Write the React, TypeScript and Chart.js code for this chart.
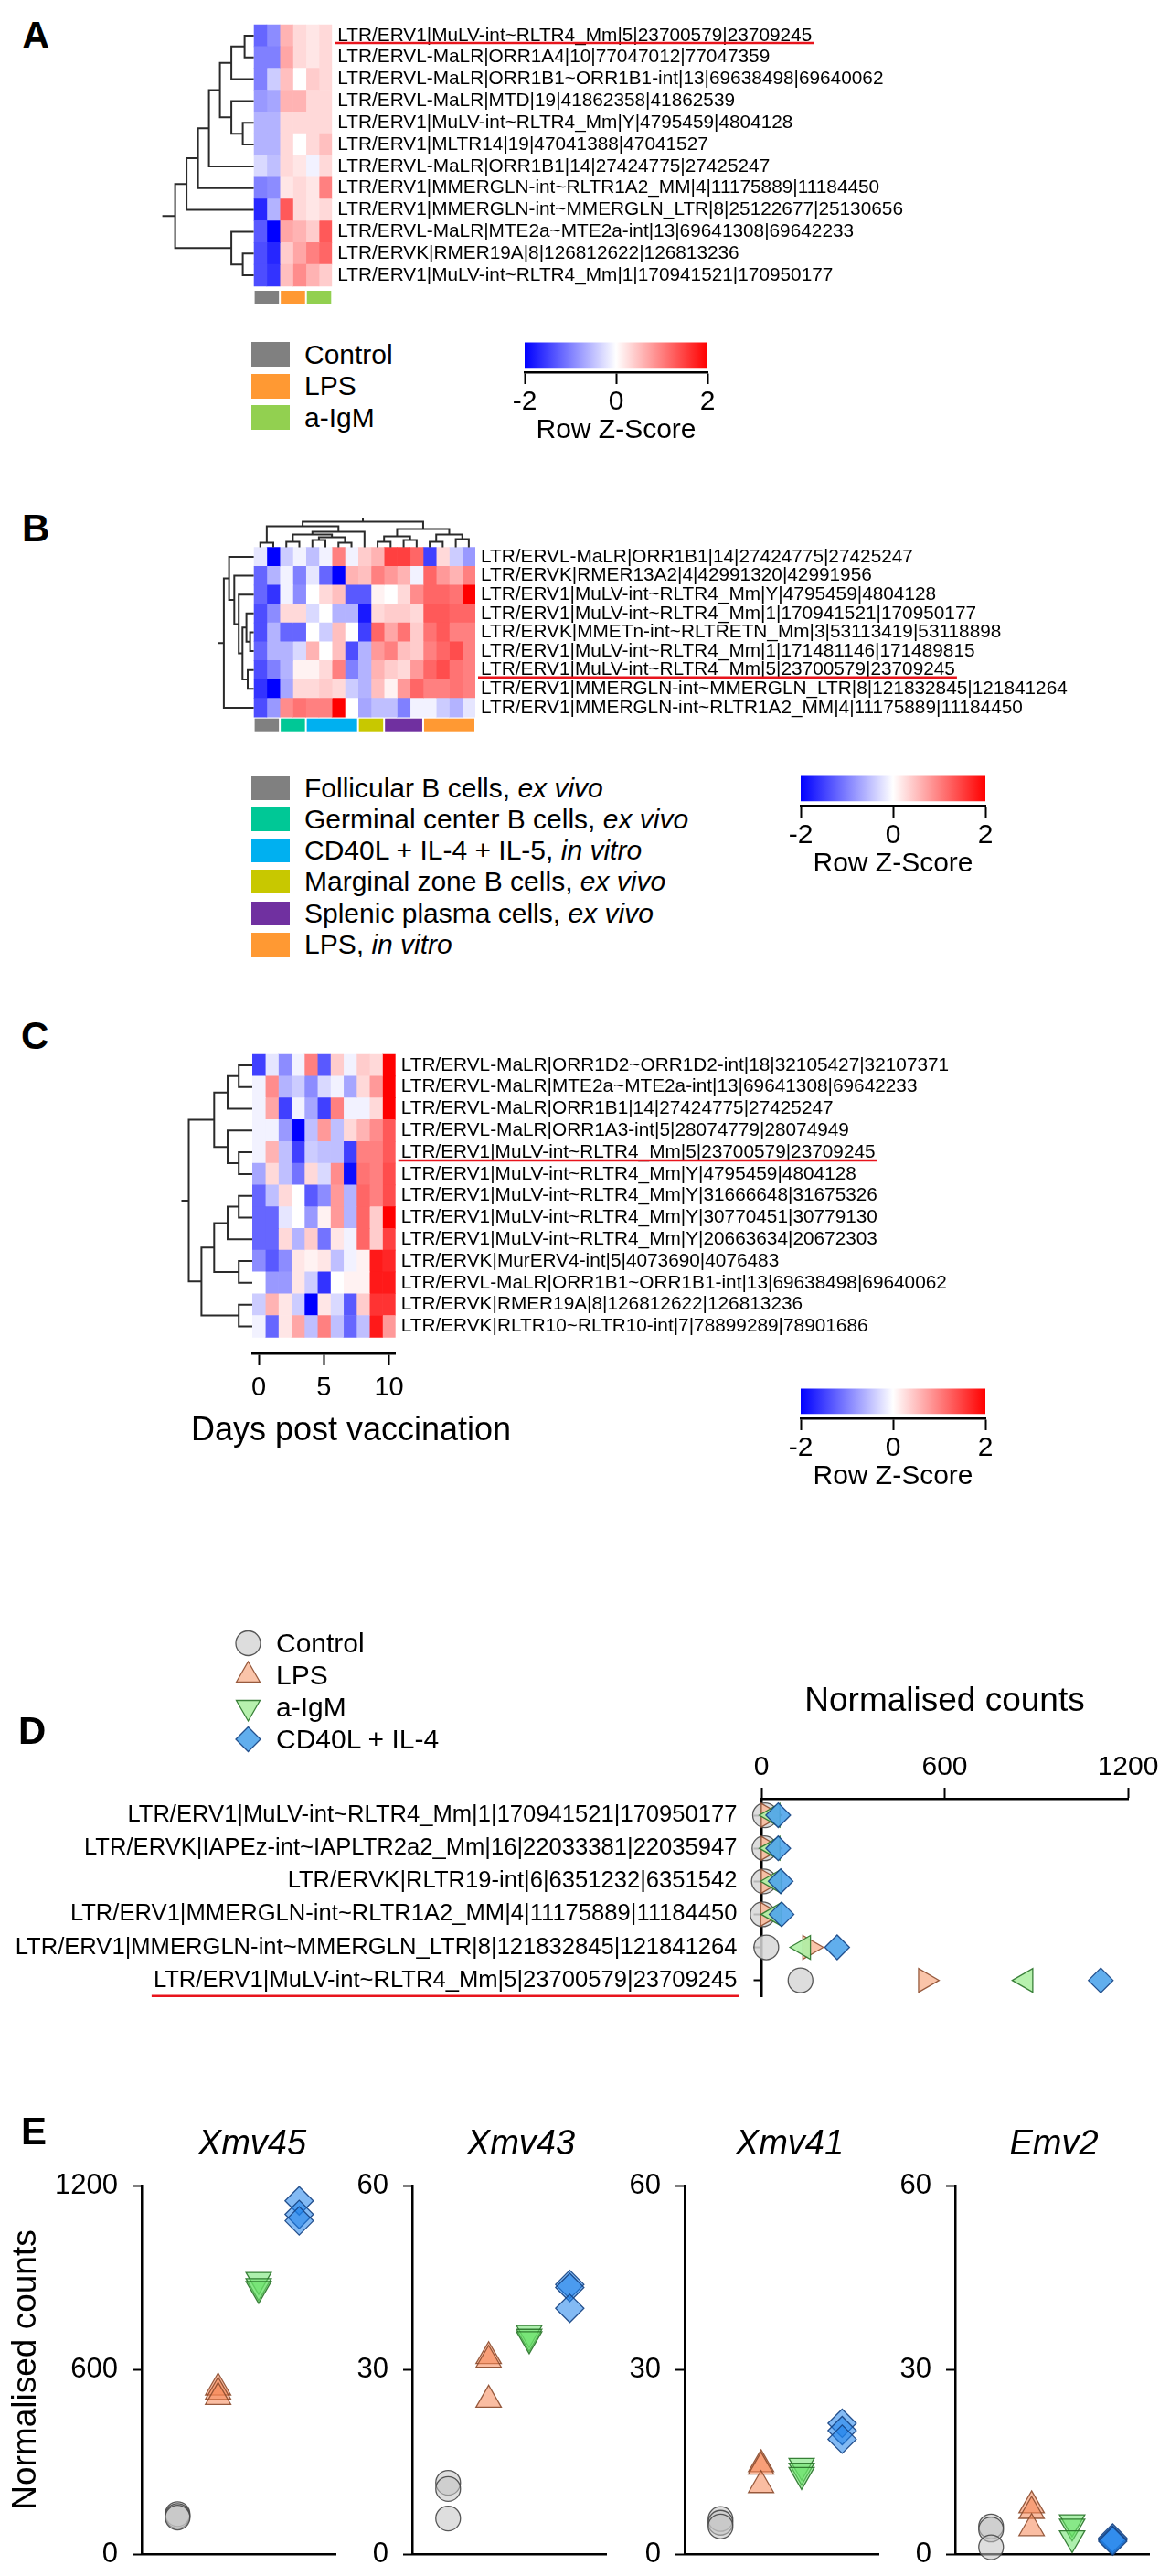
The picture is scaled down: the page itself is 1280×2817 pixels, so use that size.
import React, { useEffect, useRef } from 'react';
import { Chart, registerables } from 'chart.js';

Chart.register(...registerables);

const FONT = '"Liberation Sans", Arial, Helvetica, sans-serif';
Chart.defaults.font.family = FONT;
Chart.defaults.color = '#000';

type Merge = [number, number, number];

// ===================== DATA =====================
// ---- Panel A ----
const A_ROWS = [
  'LTR/ERV1|MuLV-int~RLTR4_Mm|5|23700579|23709245',
  'LTR/ERVL-MaLR|ORR1A4|10|77047012|77047359',
  'LTR/ERVL-MaLR|ORR1B1~ORR1B1-int|13|69638498|69640062',
  'LTR/ERVL-MaLR|MTD|19|41862358|41862539',
  'LTR/ERV1|MuLV-int~RLTR4_Mm|Y|4795459|4804128',
  'LTR/ERV1|MLTR14|19|47041388|47041527',
  'LTR/ERVL-MaLR|ORR1B1|14|27424775|27425247',
  'LTR/ERV1|MMERGLN-int~RLTR1A2_MM|4|11175889|11184450',
  'LTR/ERV1|MMERGLN-int~MMERGLN_LTR|8|25122677|25130656',
  'LTR/ERVL-MaLR|MTE2a~MTE2a-int|13|69641308|69642233',
  'LTR/ERVK|RMER19A|8|126812622|126813236',
  'LTR/ERV1|MuLV-int~RLTR4_Mm|1|170941521|170950177',
];
const A_SAMPLE_GROUP = [0, 0, 1, 1, 2, 2];
const A_GROUP_LABELS = ['Control', 'LPS', 'a-IgM'];
const A_Z = [
  [-1.2, -0.9, 0.6, 0.3, 0.2, 0.3],
  [-1.0, -1.0, 0.7, 0.3, 0.2, 0.3],
  [-1.0, -0.4, 0.5, 0.0, 0.4, 0.3],
  [-0.8, -0.7, 0.6, 0.6, 0.3, 0.3],
  [-0.6, -0.6, 0.3, 0.3, 0.3, 0.3],
  [-0.6, -0.6, 0.3, 0.0, 0.3, 0.5],
  [-0.3, -0.5, 0.3, 0.2, -0.1, 0.3],
  [-1.0, -0.9, 0.2, 0.3, 0.2, 1.0],
  [-1.7, -0.6, 1.3, 0.3, 0.2, 0.3],
  [-1.3, -2.0, 0.7, 0.6, 0.4, 1.3],
  [-1.4, -1.7, 0.4, 0.7, 1.0, 1.2],
  [-1.4, -1.6, 0.5, 0.9, 0.6, 0.4],
];
// [childA, childB, height]; leaves 0..n-1, merge k -> node n+k
const A_TREE: Merge[] = [
  [0, 1, 10], [12, 2, 24.5], [4, 5, 12], [3, 14, 24.5], [13, 15, 37], [16, 6, 49],
  [17, 7, 61], [18, 8, 73.5], [10, 11, 12], [9, 20, 24.5], [19, 21, 86],
];
const A_HIGHLIGHT = 0;

// ---- Panel B ----
const B_ROWS = [
  'LTR/ERVL-MaLR|ORR1B1|14|27424775|27425247',
  'LTR/ERVK|RMER13A2|4|42991320|42991956',
  'LTR/ERV1|MuLV-int~RLTR4_Mm|Y|4795459|4804128',
  'LTR/ERV1|MuLV-int~RLTR4_Mm|1|170941521|170950177',
  'LTR/ERVK|MMETn-int~RLTRETN_Mm|3|53113419|53118898',
  'LTR/ERV1|MuLV-int~RLTR4_Mm|1|171481146|171489815',
  'LTR/ERV1|MuLV-int~RLTR4_Mm|5|23700579|23709245',
  'LTR/ERV1|MMERGLN-int~MMERGLN_LTR|8|121832845|121841264',
  'LTR/ERV1|MMERGLN-int~RLTR1A2_MM|4|11175889|11184450',
];
const B_SAMPLE_GROUP = [0, 0, 1, 1, 2, 2, 2, 2, 3, 3, 4, 4, 4, 5, 5, 5, 5];
const B_GROUP_LABELS = ['Follicular B cells, ', 'Germinal center B cells, ', 'CD40L + IL-4 + IL-5, ', 'Marginal zone B cells, ', 'Splenic plasma cells, ', 'LPS, '];
const B_GROUP_ITALIC = ['ex vivo', 'ex vivo', 'in vitro', 'ex vivo', 'ex vivo', 'in vitro'];
const B_Z = [
  [-0.2, -2.0, -0.4, -0.1, -0.5, -0.1, 1.0, -0.1, 0.4, 0.6, 1.5, 1.5, 1.2, -1.5, 0.3, -0.4, -0.8],
  [-1.2, -0.6, -0.1, -1.0, -0.2, -1.2, -2.0, 0.6, 0.5, 1.0, 0.8, 0.6, -0.1, 1.2, 0.8, 0.6, 1.0],
  [-1.2, -1.6, -0.1, -0.9, 0.0, 0.3, 0.5, -1.3, -1.3, 0.1, 0.0, 0.3, 0.9, 1.2, 1.2, 1.1, 2.0],
  [-1.4, -0.9, 0.3, 0.3, -0.3, 0.0, -0.6, -0.6, -1.8, 0.3, 0.4, 0.4, 0.3, 1.3, 1.3, 1.2, 1.2],
  [-1.4, -0.6, -1.2, -1.2, 0.0, -0.4, 0.5, 0.0, -1.5, 1.2, 0.7, 1.1, 0.4, 1.1, 1.3, 1.0, 1.0],
  [-1.2, -0.6, -0.6, -0.3, 0.6, 0.0, 0.5, -1.4, -0.6, 0.8, 1.0, 0.5, 0.4, 1.0, 1.2, 1.4, 1.0],
  [-1.4, -1.0, -0.6, 0.1, 0.1, 0.3, 1.0, -1.0, -0.6, 0.6, 0.4, 0.3, 0.8, 1.2, 1.4, 1.1, 1.0],
  [-1.6, -2.0, -0.7, 0.3, 0.3, 0.4, 0.3, -0.4, -0.6, 0.5, 0.1, 0.8, 1.2, 1.0, 1.0, 1.1, 1.0],
  [-1.4, -0.8, 0.9, 1.1, 1.0, 1.0, 2.0, 0.0, -0.7, -0.5, -0.5, -1.0, -0.1, -0.1, -0.4, -0.6, -0.2],
];
const B_ROW_TREE: Merge[] = [
  [4, 5, 4], [3, 9, 8], [6, 7, 6.6], [10, 11, 12.3], [2, 12, 16.4], [1, 13, 21.3], [0, 14, 27], [15, 8, 32.7],
];
const B_COL_TREE: Merge[] = [
  [0, 1, 5], [2, 3, 6], [4, 5, 8], [6, 7, 5], [19, 20, 11], [18, 21, 14], [22, 8, 17], [17, 23, 23],
  [9, 10, 6], [11, 12, 8], [25, 26, 12], [13, 14, 6], [15, 16, 9], [28, 29, 14], [27, 30, 20], [24, 31, 28],
];
const B_HIGHLIGHT = 6;

// ---- Panel C ----
const C_ROWS = [
  'LTR/ERVL-MaLR|ORR1D2~ORR1D2-int|18|32105427|32107371',
  'LTR/ERVL-MaLR|MTE2a~MTE2a-int|13|69641308|69642233',
  'LTR/ERVL-MaLR|ORR1B1|14|27424775|27425247',
  'LTR/ERVL-MaLR|ORR1A3-int|5|28074779|28074949',
  'LTR/ERV1|MuLV-int~RLTR4_Mm|5|23700579|23709245',
  'LTR/ERV1|MuLV-int~RLTR4_Mm|Y|4795459|4804128',
  'LTR/ERV1|MuLV-int~RLTR4_Mm|Y|31666648|31675326',
  'LTR/ERV1|MuLV-int~RLTR4_Mm|Y|30770451|30779130',
  'LTR/ERV1|MuLV-int~RLTR4_Mm|Y|20663634|20672303',
  'LTR/ERVK|MurERV4-int|5|4073690|4076483',
  'LTR/ERVL-MaLR|ORR1B1~ORR1B1-int|13|69638498|69640062',
  'LTR/ERVK|RMER19A|8|126812622|126813236',
  'LTR/ERVK|RLTR10~RLTR10-int|7|78899289|78901686',
];
const C_DAYS = [0, 1, 2, 3, 4, 5, 6, 7, 8, 9, 10];
const C_DAY_TICKS = [0, 5, 10];
const C_Z = [
  [-1.5, -0.2, -0.9, -0.1, 1.0, -1.3, 0.4, -0.1, 0.4, 0.3, 2.0],
  [-0.1, 0.9, -0.6, -0.4, -0.9, -0.3, -0.1, -0.7, 0.3, 0.8, 2.0],
  [-0.1, 0.7, -1.5, -0.1, -0.7, -1.5, 1.0, -0.1, -0.1, 0.3, 2.0],
  [-0.1, -0.1, -0.8, -2.0, -0.5, 0.8, -0.5, 0.3, 0.6, 0.9, 1.3],
  [-0.1, 0.6, -0.5, -1.5, -0.4, -0.5, -0.5, -1.5, 1.0, 1.0, 1.3],
  [-0.7, 0.3, -0.5, -1.1, 0.3, -0.3, 0.9, -1.9, 1.1, 1.0, 1.4],
  [-1.2, -0.5, 0.3, 0.0, -1.3, -0.9, 0.8, -0.6, 1.2, 1.0, 1.4],
  [-1.2, -1.2, -0.2, 0.0, -0.8, 0.1, 0.8, -0.6, 1.2, 0.4, 2.0],
  [-1.2, -1.2, 0.3, -0.6, 0.4, -1.1, 0.2, -0.1, 1.2, 0.4, 1.5],
  [-0.9, -1.3, -0.9, 0.2, 0.1, 0.2, -0.5, -0.1, 0.1, 1.8, 1.7],
  [0.0, -0.8, -0.8, 0.2, -0.4, -1.6, 0.0, 0.1, 0.1, 1.8, 1.8],
  [-0.4, 0.6, 0.2, -0.4, -2.0, 0.2, -0.3, -1.3, 0.4, 1.6, 1.6],
  [-0.1, -1.2, 0.2, 0.7, -0.5, 1.0, -0.5, -1.2, -0.5, 1.8, 0.8],
];
const C_TREE: Merge[] = [
  [0, 1, 14.8], [13, 2, 27], [4, 5, 14.8], [3, 15, 27], [14, 16, 41.7], [6, 7, 14.8],
  [18, 8, 27], [9, 10, 14.8], [19, 20, 41.7], [11, 12, 14.8], [21, 22, 55.6], [17, 23, 69.5],
];
const C_HIGHLIGHT = 4;

// ---- colour key ----
const KEY_TICKS = [-2, 0, 2];

// ---- Panel D ----
const D_ROWS = [
  'LTR/ERV1|MuLV-int~RLTR4_Mm|1|170941521|170950177',
  'LTR/ERVK|IAPEz-int~IAPLTR2a2_Mm|16|22033381|22035947',
  'LTR/ERVK|RLTR19-int|6|6351232|6351542',
  'LTR/ERV1|MMERGLN-int~RLTR1A2_MM|4|11175889|11184450',
  'LTR/ERV1|MMERGLN-int~MMERGLN_LTR|8|121832845|121841264',
  'LTR/ERV1|MuLV-int~RLTR4_Mm|5|23700579|23709245',
];
const D_CONTROL = [12, 10, 8, 4, 16, 128];
const D_LPS = [22, 22, 22, 20, 158, 537];
const D_AIGM = [38, 38, 42, 44, 138, 866];
const D_CD40L = [55, 55, 63, 66, 248, 1111];
const D_TICKS = [0, 600, 1200];
const D_HIGHLIGHT = 5;

// ---- Panel E ----
const E_GENES = ['Xmv45', 'Xmv43', 'Xmv41', 'Emv2'];
const E_MAX = [1200, 60, 60, 60];
// replicates per group: Control, LPS, a-IgM, CD40L + IL-4
const XMV45 = [[130, 124, 119], [542, 528, 511], [893, 873, 864], [1150, 1106, 1085]];
const XMV43 = [[11.6, 10.6, 5.8], [32.2, 31.6, 25.1], [36.0, 35.4, 35.0], [43.9, 43.4, 40.0]];
const XMV41 = [[5.7, 5.1, 4.5], [14.6, 14.2, 11.2], [14.4, 13.6, 12.9], [21.3, 20.1, 18.7]];
const EMV2 = [[4.5, 4.0, 1.1], [7.9, 7.0, 4.2], [5.2, 4.5, 2.6], [2.6, 2.3, 2.1]];
const E_VALUES = [XMV45, XMV43, XMV41, EMV2];
const TREAT_LABELS = ['Control', 'LPS', 'a-IgM', 'CD40L + IL-4'];

// ===================== STYLES =====================
const A_COLORS = ['#808080', '#ff9933', '#92d050'];
const B_COLORS = ['#808080', '#00c896', '#00b0f0', '#c8c800', '#7030a0', '#ff9933'];
const TREE_COLOR = '#2a2a2a';
const RED_LINE = '#e8141c';
const MARKERS = [
  { style: 'circle', r: 13.5, fill: 'rgba(195,195,195,0.55)', stroke: 'rgba(70,70,70,0.9)', dFill: 'rgba(215,215,215,0.85)', rotD: 0, rotE: 0 },
  { style: 'triangle', r: 16, fill: 'rgba(245,135,85,0.55)', stroke: 'rgba(140,75,45,0.9)', dFill: 'rgba(250,190,160,0.9)', rotD: 90, rotE: 0 },
  { style: 'triangle', r: 16, fill: 'rgba(105,225,105,0.55)', stroke: 'rgba(40,115,40,0.9)', dFill: 'rgba(175,240,165,0.9)', rotD: 270, rotE: 180 },
  { style: 'rectRot', r: 15.5, fill: 'rgba(30,130,235,0.55)', stroke: 'rgba(20,65,130,0.9)', dFill: 'rgba(80,165,235,0.9)', rotD: 0, rotE: 0 },
];

const zColor = (z: number) => {
  const t = Math.min(1, Math.abs(z) / 2);
  const v = Math.round(255 * (1 - t));
  return z < 0 ? `rgb(${v},${v},255)` : `rgb(255,${v},${v})`;
};

// ===================== HELPERS =====================
function drawTree(ctx: CanvasRenderingContext2D, leafPos: (i: number) => number, base: number, dir: 'left' | 'up', merges: Merge[], n: number, k: number, stub: number) {
  const P: number[] = [];
  const H: number[] = [];
  for (let i = 0; i < n; i++) { P[i] = leafPos(i); H[i] = 0; }
  ctx.beginPath();
  merges.forEach(([a, b, h], m) => {
    const pa = P[a], pb = P[b];
    if (dir === 'left') {
      const xa = base - H[a] * k, xb = base - H[b] * k, xm = base - h * k;
      ctx.moveTo(xa, pa); ctx.lineTo(xm, pa); ctx.lineTo(xm, pb); ctx.lineTo(xb, pb);
    } else {
      const ya = base - H[a] * k, yb = base - H[b] * k, ym = base - h * k;
      ctx.moveTo(pa, ya); ctx.lineTo(pa, ym); ctx.lineTo(pb, ym); ctx.lineTo(pb, yb);
    }
    P[n + m] = (pa + pb) / 2;
    H[n + m] = h;
  });
  const r = n + merges.length - 1;
  if (dir === 'left') { ctx.moveTo(base - H[r] * k, P[r]); ctx.lineTo(base - (H[r] + stub) * k, P[r]); }
  else { ctx.moveTo(P[r], base - H[r] * k); ctx.lineTo(P[r], base - (H[r] + stub) * k); }
  ctx.stroke();
}

function drawMarker(ctx: CanvasRenderingContext2D, style: string, x: number, y: number, r: number, rot: number, fill: string, stroke: string) {
  ctx.beginPath();
  if (style === 'circle') ctx.arc(x, y, r, 0, Math.PI * 2);
  else if (style === 'triangle') {
    let a = (rot * Math.PI) / 180;
    for (let i = 0; i < 3; i++) {
      const px = x + Math.sin(a) * r, py = y - Math.cos(a) * r;
      if (i) ctx.lineTo(px, py); else ctx.moveTo(px, py);
      a += (2 * Math.PI) / 3;
    }
    ctx.closePath();
  } else {
    ctx.moveTo(x - r, y); ctx.lineTo(x, y - r); ctx.lineTo(x + r, y); ctx.lineTo(x, y + r); ctx.closePath();
  }
  ctx.fillStyle = fill; ctx.fill();
  ctx.strokeStyle = stroke; ctx.lineWidth = 1.3; ctx.stroke();
}

interface Box { cl: number; ct: number; cr: number; cb: number; al: number; at: number; ar: number; ab: number; }
interface HeatSpec {
  rows: string[]; z: number[][]; box: Box; fontSize: number;
  rowTree: Merge[]; rowStub: number; colTree?: Merge[]; colStub?: number;
  groups?: number[]; groupColors?: string[]; barGap?: number; barH?: number;
  highlight: number; underlineDy: number; extraRows?: number; days?: number[]; dayTicks?: number[];
}
const LABEL_PAD = 6;
const DAYS_AXIS_H = 60;

function heatConfig(spec: HeatSpec): any {
  const { rows, z, box } = spec;
  const nR = rows.length, nC = z[0].length;
  const scales: any = {
    x: { type: 'linear', stacked: true, min: 0, max: nC, display: false },
    y: {
      type: 'linear', reverse: true, min: -0.5, max: nR - 0.5 + (spec.extraRows || 0), position: 'right',
      grid: { display: false, drawTicks: false }, border: { display: false },
      afterBuildTicks: (sc: any) => { sc.ticks = rows.map((_r, i) => ({ value: i })); },
      afterFit: (sc: any) => { sc.width = box.cr - box.ar; sc.paddingTop = 0; sc.paddingBottom = 0; },
      ticks: { autoSkip: false, padding: LABEL_PAD, font: { size: spec.fontSize }, color: '#000', callback: (_v: any, i: number) => rows[i] },
    },
  };
  let axisH = 0;
  if (spec.days) {
    axisH = DAYS_AXIS_H;
    const days = spec.days;
    scales.xd = {
      type: 'linear', position: 'bottom', min: days[0] - 0.5, max: days[days.length - 1] + 0.5,
      afterBuildTicks: (sc: any) => { sc.ticks = (spec.dayTicks || []).map((v) => ({ value: v })); },
      grid: { display: true, drawOnChartArea: false, drawTicks: true, tickLength: 13, tickWidth: 2, tickColor: '#000' },
      border: { display: true, color: '#000', width: 2.5 },
      ticks: { font: { size: 29 }, padding: 7.6, color: '#000', callback: (v: any) => String(v) },
      afterFit: (sc: any) => { sc.height = DAYS_AXIS_H; sc.paddingLeft = 0; sc.paddingRight = 0; },
    };
  }
  const plugin = {
    id: 'heatExtras',
    afterDatasetsDraw(chart: any) {
      const ctx: CanvasRenderingContext2D = chart.ctx;
      const xs = chart.scales.x, ys = chart.scales.y;
      const left = xs.getPixelForValue(0);
      const top = ys.getPixelForValue(-0.5);
      const bottom = ys.getPixelForValue(nR - 0.5);
      ctx.save();
      ctx.strokeStyle = TREE_COLOR; ctx.lineWidth = 2; ctx.lineJoin = 'miter'; ctx.lineCap = 'butt';
      drawTree(ctx, (i) => ys.getPixelForValue(i), left, 'left', spec.rowTree, nR, 1, spec.rowStub);
      if (spec.colTree) drawTree(ctx, (i) => xs.getPixelForValue(i + 0.5), top, 'up', spec.colTree, nC, 1, spec.colStub || 4);
      if (spec.groups && spec.groupColors) {
        const g = spec.groups;
        let c0 = 0;
        for (let c = 1; c <= nC; c++) {
          if (c === nC || g[c] !== g[c0]) {
            const x0 = xs.getPixelForValue(c0) + 1, x1 = xs.getPixelForValue(c) - 1;
            ctx.fillStyle = spec.groupColors[g[c0]];
            ctx.fillRect(x0, bottom + (spec.barGap || 0), x1 - x0, spec.barH || 14);
            c0 = c;
          }
        }
      }
      ctx.font = `${spec.fontSize}px ${FONT}`;
      const w = ctx.measureText(rows[spec.highlight]).width;
      const lx = ys.left + LABEL_PAD;
      const uy = ys.getPixelForValue(spec.highlight) + spec.underlineDy;
      ctx.strokeStyle = RED_LINE; ctx.lineWidth = 2.5;
      ctx.beginPath(); ctx.moveTo(lx - 3, uy); ctx.lineTo(lx + w + 2, uy); ctx.stroke();
      ctx.restore();
    },
  };
  return {
    type: 'bar',
    data: {
      datasets: Array.from({ length: nC }, (_u, c) => ({
        data: rows.map((_r, r) => ({ x: 1, y: r })),
        backgroundColor: rows.map((_r, r) => zColor(z[r][c])),
        borderWidth: 0, barPercentage: 1, categoryPercentage: 1, stack: 'cells',
      })),
    },
    options: {
      indexAxis: 'y', responsive: false, animation: false, events: [],
      layout: { padding: { left: box.al - box.cl, top: box.at - box.ct, right: 0, bottom: box.cb - box.ab - axisH } },
      plugins: { legend: { display: false }, tooltip: { enabled: false } },
      scales,
    },
    plugins: [plugin],
  };
}

function keyConfig(): any {
  return {
    type: 'bar',
    data: {
      datasets: [{
        data: [{ x: [KEY_TICKS[0], KEY_TICKS[KEY_TICKS.length - 1]], y: 0.6 }],
        barThickness: 27, borderWidth: 0,
        backgroundColor: (c: any) => {
          const a = c.chart.chartArea;
          if (!a) return '#fff';
          const g = c.chart.ctx.createLinearGradient(a.left, 0, a.right, 0);
          g.addColorStop(0, zColor(KEY_TICKS[0]));
          g.addColorStop(0.5, zColor(KEY_TICKS[1]));
          g.addColorStop(1, zColor(KEY_TICKS[2]));
          return g;
        },
      }],
    },
    options: {
      indexAxis: 'y', responsive: false, animation: false, events: [],
      layout: { padding: { left: 50, right: 50, top: 10, bottom: 6 } },
      plugins: { legend: { display: false }, tooltip: { enabled: false } },
      scales: {
        y: { type: 'linear', min: 0, max: 1, display: false },
        x: {
          type: 'linear', position: 'bottom', min: KEY_TICKS[0], max: KEY_TICKS[2],
          afterBuildTicks: (sc: any) => { sc.ticks = KEY_TICKS.map((v) => ({ value: v })); },
          grid: { display: true, drawOnChartArea: false, drawTicks: true, tickLength: 13, tickWidth: 2, tickColor: '#000' },
          border: { display: true, color: '#000', width: 2.5 },
          ticks: { font: { size: 30 }, padding: 2, color: '#000', callback: (v: any) => String(v) },
          title: { display: true, text: 'Row Z-Score', font: { size: 30 }, color: '#000', padding: { top: 0, bottom: 2 } },
          afterFit: (sc: any) => { sc.height = 84; sc.paddingLeft = 0; sc.paddingRight = 0; },
        },
      },
    },
  };
}

function dConfig(): any {
  const series = [D_CONTROL, D_LPS, D_AIGM, D_CD40L];
  const plugin = {
    id: 'dExtras',
    afterDraw(chart: any) {
      const ctx: CanvasRenderingContext2D = chart.ctx;
      const ys = chart.scales.y;
      ctx.save();
      // legend markers
      const ly = [27, 62, 97, 132];
      MARKERS.forEach((m, i) => {
        const rot = m.style === 'triangle' ? (i === 1 ? 0 : 180) : 0;
        drawMarker(ctx, m.style, 271.5, ly[i], m.style === 'triangle' ? 15 : 13.5, rot, m.dFill, m.stroke);
      });
      // underline of highlighted row label
      ctx.font = `25.6px ${FONT}`;
      const w = ctx.measureText(D_ROWS[D_HIGHLIGHT]).width;
      const rx = ys.right - 8.5 - 18;
      const uy = ys.getPixelForValue(D_HIGHLIGHT) + 17;
      ctx.strokeStyle = RED_LINE; ctx.lineWidth = 2.5;
      ctx.beginPath(); ctx.moveTo(rx - w - 2, uy); ctx.lineTo(rx + 2, uy); ctx.stroke();
      ctx.restore();
    },
  };
  return {
    type: 'scatter',
    data: {
      datasets: series.map((vals, gi) => ({
        label: TREAT_LABELS[gi],
        data: D_ROWS.map((row, i) => ({ x: vals[i], y: row })),
        pointStyle: MARKERS[gi].style, pointRadius: MARKERS[gi].style === 'triangle' ? 15 : 13.5,
        rotation: MARKERS[gi].rotD, backgroundColor: MARKERS[gi].dFill, borderColor: MARKERS[gi].stroke,
        borderWidth: 1.3, clip: false, order: 3 - gi,
      })),
    },
    options: {
      responsive: false, animation: false, events: [],
      layout: { padding: { left: 0, top: 0, right: 46, bottom: 10 } },
      plugins: { legend: { display: false }, tooltip: { enabled: false } },
      scales: {
        x: {
          type: 'linear', position: 'top', min: D_TICKS[0], max: D_TICKS[D_TICKS.length - 1],
          afterBuildTicks: (sc: any) => { sc.ticks = D_TICKS.map((v) => ({ value: v })); },
          grid: { display: true, drawOnChartArea: false, drawTicks: true, tickLength: 12, tickWidth: 2, tickColor: '#000' },
          border: { display: true, color: '#000', width: 2.5 },
          ticks: { font: { size: 30 }, padding: 4, color: '#000', callback: (v: any) => String(v) },
          title: { display: true, text: 'Normalised counts', font: { size: 37 }, color: '#000', padding: { top: 68.8, bottom: 0 } },
          afterFit: (sc: any) => { sc.height = 197; sc.paddingLeft = 0; sc.paddingRight = 0; },
        },
        y: {
          type: 'category', labels: D_ROWS, offset: true, position: 'left',
          grid: { display: true, drawOnChartArea: false, drawTicks: true, tickLength: 8.5, tickWidth: 2, tickColor: '#000' },
          border: { display: true, color: '#000', width: 2.5 },
          ticks: { font: { size: 25.6 }, padding: 18, color: '#000', autoSkip: false },
          afterFit: (sc: any) => { sc.width = 833; sc.paddingTop = 0; sc.paddingBottom = 0; },
        },
      },
    },
    plugins: [plugin],
  };
}

const E_LEFT = [155, 451, 749, 1045];
const E_W = 222;
const E_TOP = 2350;
const E_H = 467;

function eConfig(k: number): any {
  const vals = E_VALUES[k];
  const max = E_MAX[k];
  const axisW = k === 0 ? 155 : 110;
  return {
    type: 'scatter',
    data: {
      datasets: vals.map((reps, gi) => ({
        label: TREAT_LABELS[gi],
        data: reps.map((v) => ({ x: gi, y: v })),
        pointStyle: MARKERS[gi].style, pointRadius: MARKERS[gi].r, rotation: MARKERS[gi].rotE,
        backgroundColor: MARKERS[gi].fill, borderColor: MARKERS[gi].stroke, borderWidth: 1.3, clip: false,
      })),
    },
    options: {
      responsive: false, animation: false, events: [],
      layout: { padding: { left: 0, top: 40, right: 8, bottom: 24 } },
      plugins: { legend: { display: false }, tooltip: { enabled: false } },
      scales: {
        x: {
          type: 'linear', min: -0.885, max: 3.91,
          ticks: { display: false }, grid: { display: false, drawTicks: false },
          border: { display: true, color: '#000', width: 2.5 },
          afterFit: (sc: any) => { sc.height = 0; sc.paddingLeft = 0; sc.paddingRight = 0; },
        },
        y: {
          type: 'linear', min: 0, max,
          afterBuildTicks: (sc: any) => { sc.ticks = [0, max / 2, max].map((v) => ({ value: v })); },
          grid: { display: true, drawOnChartArea: false, drawTicks: true, tickLength: 10, tickWidth: 2, tickColor: '#000' },
          border: { display: true, color: '#000', width: 2.5 },
          ticks: { font: { size: 31 }, padding: 16, color: '#000', callback: (v: any) => String(v) },
          title: k === 0
            ? { display: true, text: 'Normalised counts', font: { size: 37 }, color: '#000', padding: { top: 6.3, bottom: 0 } }
            : { display: false },
          afterFit: (sc: any) => { sc.width = axisW; sc.paddingTop = 0; sc.paddingBottom = 0; },
        },
      },
    },
  };
}

// ===================== COMPONENTS =====================
function ChartBox({ left, top, width, height, make }: { left: number; top: number; width: number; height: number; make: () => any }) {
  const ref = useRef<HTMLCanvasElement>(null);
  useEffect(() => {
    const chart = new Chart(ref.current as HTMLCanvasElement, make());
    return () => chart.destroy();
  }, []);
  return <canvas ref={ref} width={width} height={height} style={{ position: 'absolute', left, top, width, height }} />;
}

function Txt({ x, y, size, children, italic, bold, center }: any) {
  return (
    <div style={{
      position: 'absolute', left: x, top: y - 0.4885 * size, fontSize: size, lineHeight: `${size}px`,
      fontFamily: FONT, fontStyle: italic ? 'italic' : 'normal', fontWeight: bold ? 'bold' : 'normal',
      whiteSpace: 'nowrap', color: '#000', transform: center ? 'translateX(-50%)' : undefined,
    }}>{children}</div>
  );
}

function Swatch({ y, h, color }: { y: number; h: number; color: string }) {
  return <div style={{ position: 'absolute', left: 275, top: y - h / 2, width: 42, height: h, background: color }} />;
}

const A_SPEC: HeatSpec = {
  rows: A_ROWS, z: A_Z, fontSize: 20.8,
  box: { cl: 170, ct: 0, cr: 1020, cb: 360, al: 277.6, at: 14, ar: 363.3, ab: 326 },
  rowTree: A_TREE, rowStub: 14, groups: A_SAMPLE_GROUP, groupColors: A_COLORS, barGap: 5, barH: 14,
  highlight: A_HIGHLIGHT, underlineDy: 8,
};
const B_SPEC: HeatSpec = {
  rows: B_ROWS, z: B_Z, fontSize: 20.8,
  box: { cl: 230, ct: 545, cr: 1190, cb: 835, al: 277.6, at: 587, ar: 520, ab: 795.8 },
  rowTree: B_ROW_TREE, rowStub: 6, colTree: B_COL_TREE, colStub: 4,
  groups: B_SAMPLE_GROUP, groupColors: B_COLORS, barGap: 1.5, barH: 14,
  highlight: B_HIGHLIGHT, underlineDy: 8,
};
const C_SPEC: HeatSpec = {
  rows: C_ROWS, z: C_Z, fontSize: 20.8,
  box: { cl: 190, ct: 1110, cr: 1100, cb: 1545, al: 276, at: 1140, ar: 432.7, ab: 1480 },
  rowTree: C_TREE, rowStub: 8, highlight: C_HIGHLIGHT, underlineDy: 9,
  extraRows: 5 / 25.77, days: C_DAYS, dayTicks: C_DAY_TICKS,
};

export default function App() {
  const aLegendY = [387.5, 422, 456.5];
  const bLegendY = [862, 896, 930, 964, 998.5, 1032.5];
  const dLegendY = [1797, 1832, 1867, 1902];
  const eTitleX = [276, 570, 864, 1153];
  const boxW = (s: HeatSpec) => s.box.cr - s.box.cl;
  const boxH = (s: HeatSpec) => s.box.cb - s.box.ct;
  return (
    <div style={{ position: 'absolute', left: 0, top: 0, width: 1280, height: 2817, background: '#fff', overflow: 'hidden', fontFamily: FONT }}>
      {/* Panel A */}
      <ChartBox left={A_SPEC.box.cl} top={A_SPEC.box.ct} width={boxW(A_SPEC)} height={boxH(A_SPEC)} make={() => heatConfig(A_SPEC)} />
      <ChartBox left={524} top={363} width={300} height={134} make={keyConfig} />
      {/* Panel B */}
      <ChartBox left={B_SPEC.box.cl} top={B_SPEC.box.ct} width={boxW(B_SPEC)} height={boxH(B_SPEC)} make={() => heatConfig(B_SPEC)} />
      <ChartBox left={826} top={837} width={302} height={134} make={keyConfig} />
      {/* Panel C */}
      <ChartBox left={C_SPEC.box.cl} top={C_SPEC.box.ct} width={boxW(C_SPEC)} height={boxH(C_SPEC)} make={() => heatConfig(C_SPEC)} />
      <ChartBox left={826} top={1507} width={302} height={134} make={keyConfig} />
      {/* Panel D */}
      <ChartBox left={0} top={1770} width={1280} height={430} make={dConfig} />
      {/* Panel E */}
      {E_GENES.map((_g, k) => {
        const axisW = k === 0 ? 155 : 110;
        return <ChartBox key={k} left={E_LEFT[k] - axisW} top={E_TOP} width={axisW + E_W + 8} height={E_H} make={() => eConfig(k)} />;
      })}

      {/* panel letters */}
      <Txt x={24} y={39} size={42} bold>A</Txt>
      <Txt x={24} y={577.5} size={42} bold>B</Txt>
      <Txt x={23} y={1133} size={42} bold>C</Txt>
      <Txt x={20} y={1892.5} size={42} bold>D</Txt>
      <Txt x={23} y={2330.5} size={42} bold>E</Txt>

      {/* legend A */}
      {A_GROUP_LABELS.map((l, i) => (
        <React.Fragment key={l}>
          <Swatch y={aLegendY[i]} h={27} color={A_COLORS[i]} />
          <Txt x={333} y={aLegendY[i]} size={30}>{l}</Txt>
        </React.Fragment>
      ))}
      {/* legend B */}
      {B_GROUP_LABELS.map((l, i) => (
        <React.Fragment key={l}>
          <Swatch y={bLegendY[i]} h={26} color={B_COLORS[i]} />
          <Txt x={333} y={bLegendY[i]} size={30}>{l}<i>{B_GROUP_ITALIC[i]}</i></Txt>
        </React.Fragment>
      ))}
      {/* C axis title */}
      <Txt x={384} y={1563} size={36} center>Days post vaccination</Txt>
      {/* legend D */}
      {TREAT_LABELS.map((l, i) => (
        <Txt key={l} x={302} y={dLegendY[i]} size={30}>{l}</Txt>
      ))}
      {/* E titles */}
      {E_GENES.map((g, k) => (
        <Txt key={g} x={eTitleX[k]} y={2343} size={38} italic center>{g}</Txt>
      ))}
    </div>
  );
}
